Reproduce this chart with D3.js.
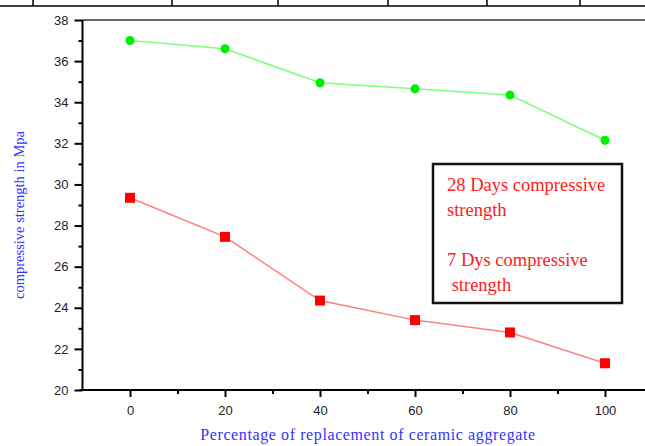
<!DOCTYPE html>
<html>
<head>
<meta charset="utf-8">
<script src="https://cdn.jsdelivr.net/npm/d3@7"></script>
<style>
  body { margin: 0; background: #fff; }
  svg { display: block; }
  .tick text { font-family: "Liberation Sans", Arial, sans-serif; font-size: 13px; fill: #222; }
  .axis-title { font-family: "Liberation Serif", "Times New Roman", serif; fill: #3333ff; }
  .legend-text { font-family: "Liberation Serif", "Times New Roman", serif; fill: #ff1a1a; font-size: 18.5px; }
</style>
</head>
<body>
<div id="chart"></div>
<script>
// data
var replacement = [0, 20, 40, 60, 80, 100];
var strength28 = [37.0, 36.6, 34.95, 34.65, 34.35, 32.15];
var strength7 = [29.35, 27.45, 24.35, 23.4, 22.8, 21.3];
var xTicks = [0, 20, 40, 60, 80, 100];
var yTicks = [20, 22, 24, 26, 28, 30, 32, 34, 36, 38];
var legendLines = [
  ["28 Days compressive", "strength"],
  ["7 Dys compressive", " strength"]
];

var width = 645;
var height = 446;

var svg = d3.select("#chart")
  .append("svg")
  .attr("width", width)
  .attr("height", height);

/* leftover table border at the top of the page */
var topCells = [33, 172, 278, 388, 487, 580];
svg.append("line")
  .attr("x1", 0).attr("x2", width)
  .attr("y1", 6).attr("y2", 6)
  .attr("stroke", "#000").attr("stroke-width", 1.5);
svg.selectAll(".cell")
  .data(topCells)
  .enter()
  .append("line")
  .attr("x1", d => d).attr("x2", d => d)
  .attr("y1", 0).attr("y2", 6)
  .attr("stroke", "#000").attr("stroke-width", 1.5);

/* Scales */
var xScale = d3.scaleLinear().domain([-10, 110]).range([82.5, 652.5]);
var yScale = d3.scaleLinear().domain([20, 38]).range([390, 20]);

/* frame top */
svg.append("line")
  .attr("x1", xScale(-10)).attr("x2", width)
  .attr("y1", yScale(38)).attr("y2", yScale(38))
  .attr("stroke", "#666").attr("stroke-width", 2);

/* Axes */
var yAxis = d3.axisLeft(yScale).tickValues(yTicks).tickSize(8).tickPadding(6).tickFormat(d3.format("d"));
var yMinor = d3.axisLeft(yScale).tickValues(d3.range(21, 38, 2)).tickSize(4).tickFormat("");
var xAxis = d3.axisBottom(xScale).tickValues(xTicks).tickSize(7).tickPadding(9).tickFormat(d3.format("d"));
var xMinor = d3.axisBottom(xScale).tickValues([10, 30, 50, 70, 90]).tickSize(4).tickFormat("");

function styleAxis(g) {
  g.select(".domain").remove();
  g.selectAll(".tick line").attr("stroke", "#000").attr("stroke-width", 2);
}

svg.append("g").attr("class", "y axis")
  .attr("transform", `translate(${xScale(-10)},0)`)
  .call(yAxis).call(styleAxis);
svg.append("g").attr("class", "y axis minor")
  .attr("transform", `translate(${xScale(-10)},0)`)
  .call(yMinor).call(styleAxis);
svg.append("g").attr("class", "x axis")
  .attr("transform", `translate(0,${yScale(20)})`)
  .call(xAxis).call(styleAxis);
svg.append("g").attr("class", "x axis minor")
  .attr("transform", `translate(0,${yScale(20)})`)
  .call(xMinor).call(styleAxis);

/* spines */
svg.append("line")
  .attr("x1", xScale(-10)).attr("x2", xScale(-10))
  .attr("y1", yScale(38)).attr("y2", yScale(20))
  .attr("stroke", "#000").attr("stroke-width", 2);
svg.append("line")
  .attr("x1", xScale(-10) - 3).attr("x2", width)
  .attr("y1", yScale(20)).attr("y2", yScale(20))
  .attr("stroke", "#000").attr("stroke-width", 2);

/* axis titles */
svg.append("text")
  .attr("class", "axis-title")
  .attr("x", 368)
  .attr("y", 440)
  .attr("text-anchor", "middle")
  .style("font-size", "16px")
  .style("letter-spacing", "0.6px")
  .text("Percentage of replacement of ceramic aggregate");

svg.append("text")
  .attr("class", "axis-title")
  .attr("transform", "translate(24,215) rotate(-90)")
  .attr("text-anchor", "middle")
  .style("font-size", "14.5px")
  .text("compressive strength in Mpa");

/* lines */
var line = d3.line()
  .x((d, i) => xScale(replacement[i]))
  .y(d => yScale(d));

svg.append("path")
  .attr("d", line(strength28))
  .attr("fill", "none")
  .attr("stroke", "#7dff7d")
  .attr("stroke-width", 1.5);

svg.append("path")
  .attr("d", line(strength7))
  .attr("fill", "none")
  .attr("stroke", "#ff8080")
  .attr("stroke-width", 1.5);

/* markers */
svg.selectAll(".dot28")
  .data(strength28)
  .enter()
  .append("circle")
  .attr("cx", (d, i) => xScale(replacement[i]))
  .attr("cy", d => yScale(d))
  .attr("r", 4.5)
  .attr("fill", "#00ee00");

svg.selectAll(".sq7")
  .data(strength7)
  .enter()
  .append("rect")
  .attr("x", (d, i) => xScale(replacement[i]) - 5)
  .attr("y", d => yScale(d) - 5)
  .attr("width", 10)
  .attr("height", 10)
  .attr("fill", "#ff0000");

/* legend box */
svg.append("rect")
  .attr("x", 433).attr("y", 164)
  .attr("width", 189).attr("height", 139)
  .attr("fill", "#fff")
  .attr("stroke", "#111")
  .attr("stroke-width", 2.5);

var lg = svg.append("g").attr("transform", "translate(447,191)");
legendLines.forEach(function(pair, k) {
  pair.forEach(function(t, j) {
    lg.append("text")
      .attr("class", "legend-text")
      .attr("x", 0)
      .attr("y", k * 75 + j * 25)
      .attr("xml:space", "preserve")
      .style("white-space", "pre")
      .text(t);
  });
});
</script>
</body>
</html>
